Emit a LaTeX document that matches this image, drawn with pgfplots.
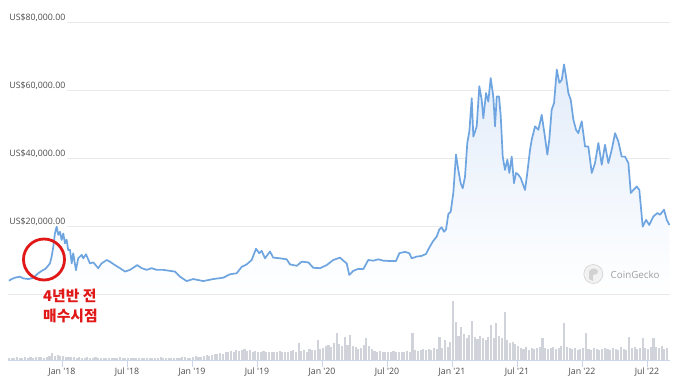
\documentclass[border=0pt]{standalone}
\usepackage{pgfplots}
\pgfplotsset{compat=1.18}
\usepackage{pgfplotstable}
\usepackage{fontspec}
\setmainfont{Open Sans}
\newfontfamily\cjk{Noto Sans CJK KR}
\definecolor{btcline}{RGB}{110,165,224}
\definecolor{btcfill}{RGB}{226,236,250}
\definecolor{gridc}{RGB}{234,234,234}
\definecolor{volc}{RGB}{208,211,217}
\definecolor{axc}{RGB}{204,214,235}
\definecolor{labc}{RGB}{77,77,77}
\definecolor{annred}{RGB}{224,24,24}

% price: months since Jan 2018, USD
\pgfplotstableread{
m price
-4.89 3900
-4.64 4400
-4.34 4800
-3.88 5100
-3.57 4600
-3.11 4400
-2.65 4700
-2.19 6100
-1.87 6800
-1.57 7300
-1.41 7800
-1.11 9000
-0.95 11000
-0.80 13900
-0.65 17800
-0.49 19800
-0.34 17400
-0.18 18300
-0.03 15900
0.12 17800
0.28 14900
0.43 16000
0.58 12900
0.74 13000
0.90 9000
1.04 12000
1.29 7000
1.50 10500
1.82 11500
1.97 10500
2.22 11700
2.58 9000
2.89 9300
3.35 7600
3.66 9000
4.13 10000
4.43 9500
4.89 8500
5.35 7600
5.82 6600
6.28 7100
6.95 8500
7.36 7600
7.82 7100
8.28 7600
8.74 7100
9.35 7100
9.97 6800
10.43 6600
10.89 5100
11.51 3800
12.12 4400
13.04 3800
13.97 4400
14.89 4800
15.51 5800
16.13 6100
16.59 8000
17.05 8700
17.51 10000
17.91 13300
18.21 12000
18.43 12700
18.74 10500
19.20 12500
19.50 10700
20.12 10500
20.74 10200
21.05 8700
21.67 8300
22.13 9500
22.74 9300
23.20 7700
23.82 7600
24.43 8500
25.04 10000
25.66 10700
25.97 9800
26.28 9000
26.52 5600
26.89 6800
27.35 7400
27.81 7300
28.27 10000
28.74 9800
29.20 10200
29.66 9800
30.28 9700
30.83 9700
31.14 12000
31.66 12400
32.06 12000
32.28 10500
32.74 11000
33.20 11200
33.60 11800
33.81 13100
34.22 15400
34.59 16900
34.83 19000
35.05 19600
35.26 18300
35.45 19000
35.66 23500
35.88 24200
36.12 29700
36.37 41000
36.58 36500
36.80 32600
36.99 31100
37.20 34500
37.41 44400
37.60 47800
37.82 57600
37.97 46300
38.28 49300
38.52 61100
38.74 57100
38.89 51700
39.14 59100
39.35 56600
39.57 63500
39.81 58100
39.97 49300
40.13 58100
40.34 58100
40.50 52200
40.68 40400
40.89 36500
41.11 39500
41.29 35600
41.51 40400
41.72 32600
41.91 35600
42.12 35100
42.34 34100
42.74 30600
42.95 35600
43.20 42400
43.36 45400
43.66 49300
43.97 48300
44.28 52700
44.59 45900
44.80 41000
44.98 45400
45.20 54200
45.42 56200
45.67 66000
45.91 62100
46.13 63000
46.34 67500
46.52 64000
46.74 59100
46.96 57100
47.20 51300
47.45 48300
47.66 47300
47.97 50800
48.28 43400
48.58 43400
48.90 35600
49.20 38500
49.51 44400
49.82 38000
50.12 43900
50.43 38500
50.74 42400
51.05 47300
51.35 44900
51.66 40400
51.97 40400
52.28 38500
52.50 29700
52.74 30600
53.05 31600
53.29 30600
53.60 19800
53.91 21800
54.21 20300
54.58 22800
54.95 23800
55.20 23300
55.57 24800
55.82 21800
56.06 20300
}\pricetable

% volume (USD billions), one bar every quarter month from -4.9
\pgfplotstableread[row sep=\\]{
v\\
10\\12\\10\\15\\12\\10\\15\\12\\15\\12\\15\\17\\15\\12\\15\\20\\
35\\20\\25\\20\\
20\\15\\17\\15\\15\\12\\15\\12\\12\\15\\12\\10\\15\\12\\
12\\10\\12\\10\\10\\12\\10\\15\\12\\10\\10\\12\\10\\10\\12\\10\\10\\12\\10\\10\\12\\10\\15\\12\\10\\10\\12\\10\\10\\12\\15\\17\\12\\
12\\15\\20\\15\\17\\20\\25\\22\\
25\\30\\28\\35\\30\\40\\38\\45\\40\\50\\45\\48\\55\\
45\\50\\40\\45\\42\\40\\45\\38\\40\\42\\38\\40\\45\\40\\42\\40\\45\\50\\42\\85\\
45\\50\\42\\55\\48\\50\\100\\55\\60\\
70\\75\\65\\85\\135\\80\\70\\115\\75\\125\\70\\
65\\55\\60\\75\\110\\70\\55\\
45\\40\\45\\38\\40\\42\\38\\45\\40\\38\\42\\40\\45\\42\\
135\\50\\
45\\50\\55\\48\\55\\50\\60\\55\\115\\60\\100\\
65\\90\\
295\\
190\\120\\165\\130\\110\\125\\195\\115\\105\\120\\110\\100\\115\\175\\110\\185\\120\\110\\240\\100\\
85\\90\\80\\70\\
60\\55\\65\\50\\60\\55\\60\\65\\110\\60\\
55\\60\\65\\55\\60\\70\\185\\65\\60\\55\\
60\\50\\55\\60\\135\\55\\50\\60\\55\\50\\
55\\60\\55\\50\\60\\55\\50\\65\\55\\50\\
115\\60\\65\\55\\60\\110\\60\\55\\65\\110\\
65\\60\\70\\55\\60\\
}\voltable

\begin{document}
\begin{tikzpicture}[font=\fontsize{8.8}{10}\selectfont]
\path[fill=white, use as bounding box] (0pt,0pt) rectangle (680pt,385pt);

% volume panel
\begin{axis}[at={(8pt,25pt)}, anchor=south west, scale only axis,
  width=662pt, height=66pt,
  xmin=-4.98, xmax=56.12, ymin=0, ymax=330,
  axis y line=none, axis x line*=bottom,
  x axis line style={draw=axc, line width=0.8pt, -},
  xtick={0,6,...,54},
  xticklabels={Jan \textquotesingle18, Jul \textquotesingle18, Jan \textquotesingle19, Jul \textquotesingle19, Jan \textquotesingle20, Jul \textquotesingle20, Jan \textquotesingle21, Jul \textquotesingle21, Jan \textquotesingle22, Jul \textquotesingle22},
  xtick align=outside, major tick length=7pt,
  xtick style={draw=axc, line width=0.8pt},
  xticklabel style={text=labc, inner sep=1pt},
  clip=false]
\addplot[ycomb, draw=volc, line width=2.1pt, mark=none]
  table[x expr=\coordindex*0.25-4.9, y index=0] {\voltable};
\end{axis}

% price panel
\begin{axis}[at={(8pt,91pt)}, anchor=south west, scale only axis,
  width=662pt, height=272pt,
  xmin=-4.98, xmax=56.12, ymin=0, ymax=80000,
  axis x line=none, axis y line*=left,
  y axis line style={draw=none},
  scaled y ticks=false,
  ytick={0,20000,40000,60000,80000},
  yticklabels={{US\$0.00},{US\$20,000.00},{US\$40,000.00},{US\$60,000.00},{US\$80,000.00}},
  ymajorgrids, grid style={draw=gridc, line width=0.8pt},
  major tick length=0pt,
  yticklabel style={anchor=base west, fill=white, inner sep=1.2pt, text=labc, yshift=1.5pt},
  clip=false]
\addplot[draw=none, top color=btcfill, bottom color=white, forget plot]
  table[x=m, y=price] {\pricetable} \closedcycle;
\addplot[btcline, line width=1.7pt, line join=round, mark=none]
  table[x=m, y=price] {\pricetable};
\end{axis}

% annotation
\draw[annred, line width=2.8pt] (44pt,125.5pt) circle[radius=20.5pt];
\node[anchor=west, inner sep=0pt, text=annred, font=\cjk\bfseries\fontsize{14.8}{15}\selectfont] at (43pt,89pt) {4년반 전};
\node[anchor=west, inner sep=0pt, text=annred, font=\cjk\bfseries\fontsize{14.8}{15}\selectfont] at (43pt,69.5pt) {매수시점};

% watermark
\draw[gray!35, fill=gray!10, line width=0.6pt] (593.3pt,111pt) circle[radius=9.5pt];
\fill[gray!35] (589pt,106pt) -- (589pt,113pt) .. controls (590pt,117pt) and (596pt,118pt) .. (598pt,114pt) -- (597pt,111pt) -- (593pt,110pt) -- (593pt,104pt) -- cycle;
\node[anchor=west, inner sep=0pt, text=gray!75, font=\fontsize{9.8}{10}\selectfont] at (610.5pt,110.5pt) {CoinGecko};
\end{tikzpicture}
\end{document}
